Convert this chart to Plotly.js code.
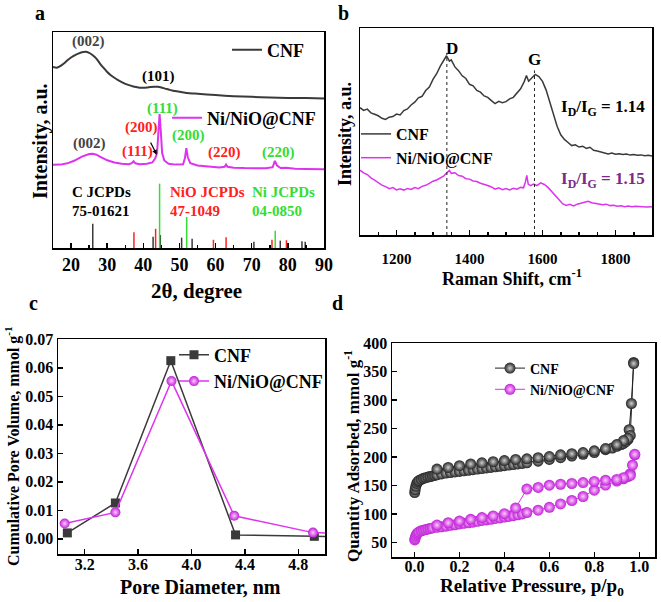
<!DOCTYPE html>
<html>
<head>
<meta charset="utf-8">
<script src="https://cdn.plot.ly/plotly-3.0.1.min.js"></script>
<style>html,body{margin:0;padding:0;background:#fff;}#chart{width:661px;height:602px;}</style>
</head>
<body>
<div id="chart"></div>
<script>
// ---------- Panel a: XRD ----------
const xrdThetaCNF = [15,16,17,18,19,20,21,22,23,24,25,26,27,28,29,30,31,32,33,34,35,36,37,38,39,40,41,42,43,44,45,46,47,48,50,52,55,60,65,70,75,80,85,90];
const xrdIntCNF = [83.8,83.5,84.2,85.4,86.9,88.2,89.2,90.0,90.6,90.8,90.3,89.2,87.7,85.4,83.4,81.5,80.0,78.8,77.7,76.8,76.0,75.4,74.9,74.5,74.2,74.2,74.3,74.5,74.6,74.6,74.3,73.8,73.4,72.9,72.3,71.8,71.4,70.8,70.3,70.0,69.7,69.5,69.4,69.2];
const xrdThetaNi = [15,17,19,21,23,24,25,26,27,28,29,30,32,34,36,36.8,37.3,37.8,39,41,42.5,43.3,43.8,44.2,44.5,44.8,45.2,45.8,47,49,51,51.5,51.9,52.3,53,55,58,61,62.5,62.9,63.3,65,68,71,74,75.8,76.4,77,78,79.5,82,85,88,90];
const xrdIntNi = [38.5,38.6,39.2,40.5,42.3,43.0,43.5,43.6,43.2,42.3,41.4,40.6,39.6,39.0,38.8,39.3,40.2,39.2,38.8,39.0,39.6,41.5,44.0,53.0,62.0,55.0,44.0,40.5,39.0,38.6,38.8,41.5,46.2,42.0,39.3,38.2,37.6,37.3,37.6,38.6,37.6,37.2,37.0,36.9,36.9,37.4,40.3,38.2,37.0,37.2,36.7,36.6,36.5,36.5];
const cStickPos = [26.0,42.7,44.7,50.6,53.5,70.6,77.9,83.9,84.8];
const cStickH = [11.2,5.2,6.0,4.8,4.3,2.9,3.4,3.1,2.9];
const nioStickPos = [37.4,43.4,59.4,62.9,75.6,79.6];
const nioStickH = [7.3,8.9,3.8,5.0,3.8,3.6];
const niStickPos = [44.5,52.0,76.5];
const niStickH = [29.8,14.4,8.0];

// ---------- Panel b: Raman ----------
const ramanShiftCNF = [1100,1110,1120,1130,1140,1150,1160,1170,1180,1190,1200,1210,1220,1230,1240,1250,1260,1270,1280,1290,1300,1310,1320,1330,1337,1345,1350,1360,1370,1380,1390,1400,1410,1420,1430,1440,1450,1460,1470,1480,1490,1500,1510,1520,1530,1540,1550,1556,1562,1570,1580,1590,1600,1610,1620,1630,1640,1650,1660,1670,1680,1690,1700,1710,1720,1730,1740,1750,1760,1770,1780,1790,1800,1810,1820,1830,1840,1850,1860,1870,1880,1890,1900];
const ramanIntCNF = [61.5,60.2,60.8,59.0,58.3,57.6,56.4,55.8,56.9,57.2,58.4,58.0,60.1,60.9,62.8,64.2,66.3,67.0,69.8,71.5,75.2,77.9,81.6,84.9,86.6,84.0,84.6,81.2,79.4,76.9,75.6,72.8,72.1,69.8,69.0,67.2,66.5,64.9,63.5,64.6,63.9,64.4,65.8,66.5,68.4,70.6,74.1,77.0,74.3,75.8,77.6,76.5,74.2,70.0,64.0,58.1,52.5,48.4,46.2,44.7,43.2,43.6,42.5,42.9,41.8,42.4,40.9,40.6,40.1,39.9,39.2,39.6,39.0,39.3,38.9,39.1,38.6,38.9,38.5,38.7,38.3,38.5,38.2];
const ramanShiftNi = [1100,1110,1120,1130,1140,1150,1160,1170,1180,1190,1200,1210,1220,1230,1240,1250,1260,1270,1280,1290,1300,1310,1320,1330,1340,1345,1350,1360,1370,1380,1390,1400,1410,1420,1430,1440,1450,1460,1470,1480,1490,1500,1510,1520,1530,1540,1548,1553,1557,1561,1568,1575,1585,1595,1605,1615,1625,1635,1645,1655,1665,1675,1685,1695,1705,1715,1725,1735,1745,1755,1765,1775,1785,1795,1805,1815,1825,1835,1845,1855,1865,1875,1885,1900];
const ramanIntNi = [31.3,30.0,29.2,27.6,26.5,25.3,24.1,23.4,22.4,22.9,21.8,22.3,21.7,22.5,22.0,22.9,22.4,23.5,24.0,24.9,26.0,26.6,27.8,28.6,30.4,31.2,29.8,30.1,28.7,28.4,27.2,27.0,26.1,25.8,25.0,24.6,23.9,23.2,22.1,22.8,21.9,22.4,21.8,22.6,22.1,23.0,22.8,25.5,28.8,24.5,23.8,24.6,23.9,25.2,24.4,23.0,21.0,19.2,17.4,15.1,14.3,14.8,14.0,14.9,15.3,15.9,16.3,15.6,15.2,15.0,14.6,14.9,14.2,14.4,13.9,14.1,13.7,14.0,13.6,13.9,13.7,13.8,13.5,13.7];
const ramanPeakPos = [1338,1578];
const ramanPeakTop = [88,79.5];

// ---------- Panel c: pore volume ----------
const poreDiamCNF = [3.07,3.43,3.845,4.33,4.92,5.2];
const poreVolCNF = [0.0021,0.0126,0.0625,0.0014,0.0009,0.0008];
const poreDiamNi = [3.05,3.43,3.85,4.32,4.91,5.2];
const poreVolNi = [0.0054,0.0093,0.0554,0.0081,0.0022,0.0019];

// ---------- Panel d: isotherms ----------
const adsPCNF = [0.001,0.003,0.006,0.01,0.015,0.02,0.03,0.04,0.05,0.06,0.07,0.08,0.09,0.1,0.12,0.14,0.16,0.18,0.2,0.22,0.24,0.26,0.28,0.3,0.32,0.34,0.36,0.38,0.4,0.42,0.44,0.46,0.48,0.5,0.55,0.6,0.65,0.7,0.75,0.8,0.85,0.88,0.9,0.92,0.93,0.94,0.95,0.955,0.965,0.975];
const adsQCNF = [138,143,149,154,157,159,161,163,164,165,166,167,168,169,170.5,172,173,174,175,176,177,178,179,180,181,182,183,184,185,186,187,188,189,190,193,196,199,202,205,208,213,216,219,222,224,227,231,248,294,366];
const desPCNF = [0.975,0.96,0.95,0.93,0.9,0.85,0.8,0.75,0.7,0.65,0.6,0.55,0.5,0.45,0.4,0.35,0.3,0.25,0.2,0.15,0.1];
const desQCNF = [364,238,233,229,222,215,211,208,206,204,201,199,197,196,194,192,190,188,185,182,179];
const adsPNi = [0.001,0.003,0.006,0.01,0.015,0.02,0.03,0.04,0.05,0.06,0.07,0.08,0.1,0.12,0.14,0.16,0.18,0.2,0.22,0.24,0.26,0.28,0.3,0.32,0.34,0.36,0.38,0.4,0.42,0.44,0.46,0.48,0.5,0.55,0.6,0.65,0.7,0.75,0.8,0.85,0.9,0.93,0.95,0.96,0.97,0.98];
const adsQNi = [55,58,62,65,67,69,71,72,73,74,75,76,77,78,79,80.5,81.5,83,84,85,86,87.5,89,90,91,92.5,93.5,95,96,97.5,99,100.5,103,107,112,118,124,131,142,151,158,162,166,171,186,204];
const desPNi = [0.98,0.96,0.93,0.9,0.85,0.8,0.75,0.7,0.65,0.6,0.55,0.5,0.45,0.4,0.35,0.3,0.25,0.2,0.15,0.1];
const desQNi = [205,168,164,161,159.5,157.5,155.5,153.8,152.5,150.8,147,144,111,101,97,94,91,88,85,81];

// ---------- styles ----------
const DARK = '#3a3a3a', MAG = '#dd33ee', RED = '#ff2020', GREEN = '#33dd33', PURPLE = '#7b2a8a';
const W = 661, H = 602;
const px = v => v / W, py = v => 1 - v / H;

function sticks(pos, h) {
  const x = [], y = [];
  pos.forEach((p, i) => { x.push(p, p, null); y.push(0, h[i], null); });
  return {x, y};
}
const cS = sticks(cStickPos, cStickH), nioS = sticks(nioStickPos, nioStickH), niS = sticks(niStickPos, niStickH), rP = sticks(ramanPeakPos, ramanPeakTop);

const traces = [
  {x: xrdThetaCNF, y: xrdIntCNF, xaxis: 'x', yaxis: 'y', mode: 'lines', name: 'CNF', line: {color: DARK, width: 2, shape: 'spline', smoothing: 0.6}, legend: 'legend'},
  {x: xrdThetaNi, y: xrdIntNi, xaxis: 'x', yaxis: 'y', mode: 'lines', name: 'Ni/NiO@CNF', line: {color: MAG, width: 2}, legend: 'legend2'},
  {x: cS.x, y: cS.y, xaxis: 'x', yaxis: 'y', mode: 'lines', line: {color: DARK, width: 1.5}, showlegend: false},
  {x: nioS.x, y: nioS.y, xaxis: 'x', yaxis: 'y', mode: 'lines', line: {color: RED, width: 1.5}, showlegend: false},
  {x: niS.x, y: niS.y, xaxis: 'x', yaxis: 'y', mode: 'lines', line: {color: GREEN, width: 1.5}, showlegend: false},

  {x: ramanShiftCNF, y: ramanIntCNF, xaxis: 'x2', yaxis: 'y2', mode: 'lines', name: 'CNF', line: {color: DARK, width: 1.5}, legend: 'legend3'},
  {x: ramanShiftNi, y: ramanIntNi, xaxis: 'x2', yaxis: 'y2', mode: 'lines', name: 'Ni/NiO@CNF', line: {color: MAG, width: 1.5}, legend: 'legend3'},
  {x: rP.x, y: rP.y, xaxis: 'x2', yaxis: 'y2', mode: 'lines', line: {color: '#222', width: 1, dash: 'dot'}, showlegend: false},

  {x: poreDiamCNF, y: poreVolCNF, xaxis: 'x3', yaxis: 'y3', mode: 'lines+markers', name: 'CNF', line: {color: DARK, width: 1.5}, marker: {symbol: 'square', size: 9, color: DARK}, legend: 'legend4'},
  {x: poreDiamNi, y: poreVolNi, xaxis: 'x3', yaxis: 'y3', mode: 'lines+markers', name: 'Ni/NiO@CNF', line: {color: MAG, width: 1.5}, marker: {symbol: 'circle', size: 10, color: '#c020d8', gradient: {type: 'radial', color: '#ffc8ff'}}, legend: 'legend4'},

  {x: adsPCNF.concat(desPCNF), y: adsQCNF.concat(desQCNF), xaxis: 'x4', yaxis: 'y4', mode: 'lines+markers', name: 'CNF', line: {color: '#222', width: 1}, marker: {symbol: 'circle', size: 11, color: '#222', gradient: {type: 'radial', color: '#cfcfcf'}}, legend: 'legend5'},
  {x: adsPNi.concat(desPNi), y: adsQNi.concat(desQNi), xaxis: 'x4', yaxis: 'y4', mode: 'lines+markers', name: 'Ni/NiO@CNF', line: {color: MAG, width: 1}, marker: {symbol: 'circle', size: 11, color: '#c020d8', gradient: {type: 'radial', color: '#ffc8ff'}}, legend: 'legend5'}
];

const axBase = {showline: true, linecolor: '#000', linewidth: 1.5, mirror: true, showgrid: false, zeroline: false, automargin: false, tickcolor: '#000', tickwidth: 1.5};

const ann = (x, y, text, size, extra) => Object.assign({x, y, text, showarrow: false, font: {size}}, extra || {});
const paperAnn = (xp, yp, text, size, extra) => Object.assign({xref: 'paper', yref: 'paper', x: px(xp), y: py(yp), xanchor: 'center', yanchor: 'middle', text, showarrow: false, font: {size}}, extra || {});

const annotations = [
  // panel letters
  paperAnn(40, 13, 'a', 20), paperAnn(343, 13, 'b', 20), paperAnn(33, 303, 'c', 20), paperAnn(337, 303, 'd', 20),
  // axis titles
  paperAnn(40, 141, 'Intensity, a.u.', 20, {textangle: -90}),
  paperAnn(196, 291, '2θ, degree', 21),
  paperAnn(345, 134, 'Intensity, a.u.', 18, {textangle: -90}),
  paperAnn(512, 277, 'Raman Shift, cm<sup>-1</sup>', 18),
  paperAnn(12, 446, 'Cumulative Pore Volume, mmol g<sup>-1</sup>', 16, {textangle: -90}),
  paperAnn(200, 587, 'Pore Diameter, nm', 20),
  paperAnn(352, 456, 'Quantity Adsorbed, mmol g<sup>-1</sup>', 17, {textangle: -90}),
  paperAnn(532, 587, 'Relative Pressure, p/p<sub>0</sub>', 19),
  // panel a labels
  Object.assign(ann(24.7, 95.4, '(002)', 15, {font: {size: 15, color: '#444'}}), {xref: 'x', yref: 'y'}),
  Object.assign(ann(44.3, 79.2, '(101)', 15), {xref: 'x', yref: 'y'}),
  Object.assign(ann(25.2, 48.6, '(002)', 15, {font: {size: 15, color: '#444'}}), {xref: 'x', yref: 'y'}),
  Object.assign(ann(38.5, 44.9, '(111)', 15, {font: {size: 15, color: RED}}), {xref: 'x', yref: 'y'}),
  Object.assign(ann(39.6, 55.6, '(200)', 15, {font: {size: 15, color: RED}}), {xref: 'x', yref: 'y'}),
  Object.assign(ann(45.2, 64.8, '(111)', 15, {font: {size: 15, color: GREEN}}), {xref: 'x', yref: 'y'}),
  Object.assign(ann(52.4, 51.9, '(200)', 15, {font: {size: 15, color: GREEN}}), {xref: 'x', yref: 'y'}),
  Object.assign(ann(62.6, 44.4, '(220)', 15, {font: {size: 15, color: RED}}), {xref: 'x', yref: 'y'}),
  Object.assign(ann(77.3, 44.4, '(220)', 15, {font: {size: 15, color: GREEN}}), {xref: 'x', yref: 'y'}),
  {xref: 'x', yref: 'y', axref: 'x', ayref: 'y', x: 43.7, y: 43.2, ax: 41.8, ay: 49.5, text: '', showarrow: true, arrowhead: 2, arrowsize: 0.8, arrowwidth: 1.2, arrowcolor: '#000'},
  Object.assign(ann(19.7, 25.9, 'C JCPDs', 15, {xanchor: 'left'}), {xref: 'x', yref: 'y'}),
  Object.assign(ann(19.7, 17.1, '75-01621', 15, {xanchor: 'left'}), {xref: 'x', yref: 'y'}),
  Object.assign(ann(46.8, 25.9, 'NiO JCPDs', 15, {xanchor: 'left', font: {size: 15, color: RED}}), {xref: 'x', yref: 'y'}),
  Object.assign(ann(46.8, 17.1, '47-1049', 15, {xanchor: 'left', font: {size: 15, color: RED}}), {xref: 'x', yref: 'y'}),
  Object.assign(ann(69.5, 25.9, 'Ni JCPDs', 15, {xanchor: 'left', font: {size: 15, color: GREEN}}), {xref: 'x', yref: 'y'}),
  Object.assign(ann(69.5, 17.1, '04-0850', 15, {xanchor: 'left', font: {size: 15, color: GREEN}}), {xref: 'x', yref: 'y'}),
  // panel b labels
  Object.assign(ann(1352, 90.3, 'D', 17), {xref: 'x2', yref: 'y2'}),
  Object.assign(ann(1577, 85, 'G', 17), {xref: 'x2', yref: 'y2'}),
  Object.assign(ann(1885, 61.4, 'I<sub>D</sub>/I<sub>G</sub> = 1.14', 17, {xanchor: 'right'}), {xref: 'x2', yref: 'y2'}),
  Object.assign(ann(1885, 26.6, 'I<sub>D</sub>/I<sub>G</sub> = 1.15', 17, {xanchor: 'right', font: {size: 17, color: PURPLE}}), {xref: 'x2', yref: 'y2'})
];

const legBase = {xanchor: 'left', yanchor: 'middle', bgcolor: 'rgba(0,0,0,0)', borderwidth: 0, tracegroupgap: 0};

const layout = {
  width: W, height: H,
  margin: {l: 0, r: 0, t: 0, b: 0},
  paper_bgcolor: '#fff', plot_bgcolor: '#fff',
  font: {family: '"Liberation Serif", "Times New Roman", serif', weight: 'bold', color: '#000', size: 16},
  showlegend: true,
  xaxis: Object.assign({}, axBase, {domain: [px(53), px(324)], anchor: 'y', range: [15, 90], tick0: 0, dtick: 10, ticks: 'inside', ticklen: 5, tickfont: {size: 18}, minor: {dtick: 5, ticks: 'inside', ticklen: 3, tickcolor: '#000'}}),
  yaxis: Object.assign({}, axBase, {domain: [py(248), py(32)], anchor: 'x', range: [0, 100], showticklabels: false, ticks: ''}),
  xaxis2: Object.assign({}, axBase, {domain: [px(360), px(652)], anchor: 'y2', range: [1100, 1900], tick0: 1200, dtick: 200, ticks: 'inside', ticklen: 5, ticklabelstandoff: 9, tickfont: {size: 15}, minor: {dtick: 50, ticks: 'inside', ticklen: 3, tickcolor: '#000'}}),
  yaxis2: Object.assign({}, axBase, {domain: [py(235), py(28)], anchor: 'x2', range: [0, 100], showticklabels: false, ticks: ''}),
  xaxis3: Object.assign({}, axBase, {domain: [px(58), px(325)], anchor: 'y3', range: [3.0, 5.0], tick0: 3.2, dtick: 0.4, tickformat: '.1f', ticks: 'inside', ticklen: 5, ticklabelstandoff: -5, tickfont: {size: 16}}),
  yaxis3: Object.assign({}, axBase, {domain: [py(554), py(339)], anchor: 'x3', range: [-0.0053, 0.0701], tick0: 0, dtick: 0.01, tickformat: '.2f', ticks: 'inside', ticklen: 5, tickfont: {size: 16}}),
  xaxis4: Object.assign({}, axBase, {domain: [px(392), px(655)], anchor: 'y4', range: [-0.1, 1.07], tick0: 0, dtick: 0.2, tickformat: '.1f', ticks: 'inside', ticklen: 5, ticklabelstandoff: -6, tickfont: {size: 16}}),
  yaxis4: Object.assign({}, axBase, {domain: [py(557), py(343)], anchor: 'x4', range: [25, 400], tick0: 0, dtick: 50, ticks: 'inside', ticklen: 5, tickfont: {size: 16}}),
  legend: Object.assign({}, legBase, {x: px(227), y: py(50), font: {size: 18}}),
  legend2: Object.assign({}, legBase, {x: px(167), y: py(118), font: {size: 18}}),
  legend3: Object.assign({}, legBase, {x: px(356), y: py(146), font: {size: 16}}),
  legend4: Object.assign({}, legBase, {x: px(174), y: py(368), font: {size: 18}}),
  legend5: Object.assign({}, legBase, {x: px(490), y: py(379), font: {size: 14}}),
  annotations
};

Plotly.newPlot('chart', traces, layout, {staticPlot: true, displayModeBar: false});
</script>
</body>
</html>
